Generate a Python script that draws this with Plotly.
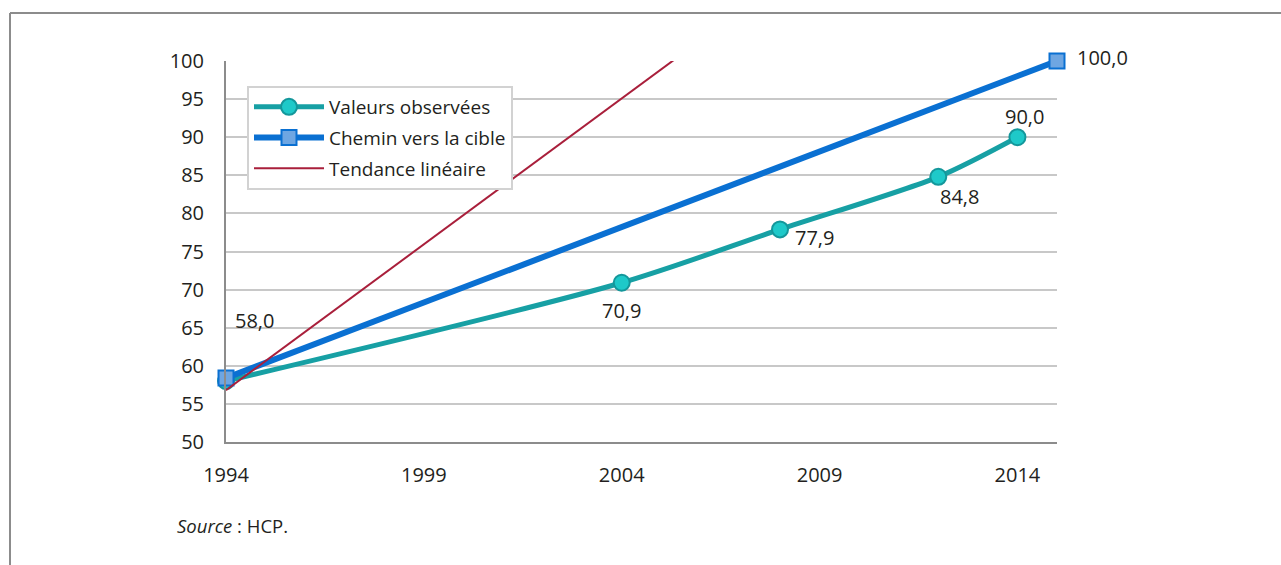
import plotly.graph_objects as go

# Data
obs_years = [1994, 2004, 2008, 2012, 2014]
obs_values = [58.0, 70.9, 77.9, 84.8, 90.0]
obs_labels = ["58,0", "70,9", "77,9", "84,8", "90,0"]

target_years = [1994, 2015]
target_values = [58.4, 100.0]
target_labels = ["", "100,0"]

trend_years = [1994, 2015]
trend_values = [56.8, 137.2]

x_ticks = [1994, 1999, 2004, 2009, 2014]
x_tick_labels = ["1994", "1999", "2004", "2009", "2014"]
y_ticks = [50, 55, 60, 65, 70, 75, 80, 85, 90, 95, 100]

FONT = "Open Sans"
TXT = "#231f20"

fig = go.Figure()

fig.add_trace(go.Scatter(
    x=obs_years, y=obs_values, name="Valeurs observées", legendgroup="a",
    mode="lines+markers", cliponaxis=False,
    line=dict(color="#17a0a4", width=5, shape="spline", smoothing=0.8),
    marker=dict(symbol="circle", size=16, color="#1ec9c9",
                line=dict(color="#14979b", width=2)),
))
fig.add_trace(go.Scatter(
    x=target_years, y=target_values, name="Chemin vers la cible", legendgroup="b",
    mode="lines+markers", cliponaxis=False,
    line=dict(color="#0a70d2", width=6),
    marker=dict(symbol="square", size=15, color="#6ea6e2",
                line=dict(color="#0a70d2", width=2)),
))
fig.add_trace(go.Scatter(
    x=trend_years, y=trend_values, name="Tendance linéaire", legendgroup="c",
    mode="lines",
    line=dict(color="#a91f3b", width=2),
))

# Value labels (offsets in px)
offsets_obs = [(28, 61), (0, -28), (34, -8), (21, -20), (7, 21)]
for x, y, t, (dx, dy) in zip(obs_years, obs_values, obs_labels, offsets_obs):
    fig.add_annotation(x=x, y=y, text=t, showarrow=False, xshift=dx, yshift=dy,
                       font=dict(family=FONT, size=20, color=TXT))
for x, y, t in zip(target_years, target_values, target_labels):
    if t:
        fig.add_annotation(x=x, y=y, text=t, showarrow=False, xshift=45, yshift=4,
                           font=dict(family=FONT, size=20, color=TXT))

# Source note
fig.add_annotation(xref="paper", yref="paper", x=(175 - 226) / 831, y=(442 - 525) / 381,
                   xanchor="left", yanchor="middle", showarrow=False,
                   text="<i>Source</i> : HCP.",
                   font=dict(family=FONT, size=18.5, color=TXT))

# Outer frame (top and left lines)
fx = (10 - 226) / 831
fy = (442 - 13) / 381
fig.add_shape(type="line", xref="paper", yref="paper", x0=fx, x1=(1281 - 226) / 831 + 0.01,
              y0=fy, y1=fy, line=dict(color="#8c8c8c", width=2))
fig.add_shape(type="line", xref="paper", yref="paper", x0=fx, x1=fx,
              y0=fy, y1=(442 - 570) / 381, line=dict(color="#8c8c8c", width=2))

fig.update_layout(
    width=1281, height=565,
    margin=dict(l=226, r=224, t=61, b=123),
    paper_bgcolor="white", plot_bgcolor="white",
    font=dict(family=FONT, size=20, color=TXT),
    showlegend=True,
    legend=dict(
        x=(247 - 226) / 831, y=(442 - 86) / 381, xanchor="left", yanchor="top",
        bgcolor="white", bordercolor="#d2d2d2", borderwidth=2,
        font=dict(family=FONT, size=19, color=TXT),
        itemwidth=70, tracegroupgap=3, traceorder="grouped",
    ),
    xaxis=dict(
        range=[1994, 2015], tickmode="array", tickvals=x_ticks, ticktext=x_tick_labels,
        showgrid=False, zeroline=False, showline=True, linecolor="#8c8c8c", linewidth=2,
        ticks="", ticklabelstandoff=14, tickfont=dict(family=FONT, size=20, color=TXT),
    ),
    yaxis=dict(
        range=[50, 100], tickmode="array", tickvals=y_ticks,
        showgrid=True, gridcolor="#c8c8c8", gridwidth=1.5,
        zeroline=False, showline=True, linecolor="#8c8c8c", linewidth=2,
        ticks="", ticklabelstandoff=16, tickfont=dict(family=FONT, size=20, color=TXT),
    ),
)

fig.write_html("out.html")
